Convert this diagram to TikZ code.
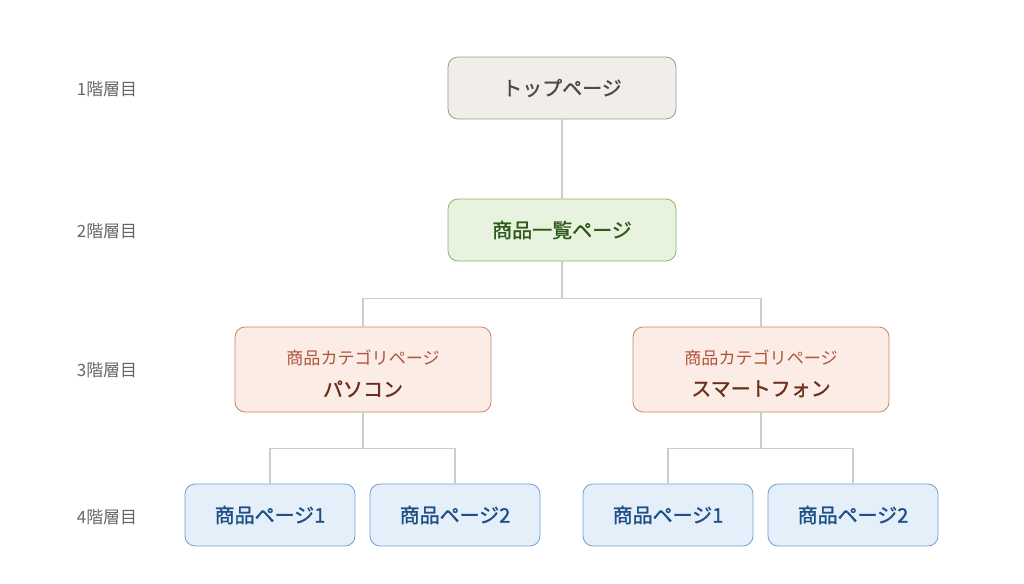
\documentclass[tikz,border=0pt]{standalone}
\usepackage{fontspec}
\setmainfont{Noto Sans CJK JP}
\newfontfamily\medfont[FakeBold=1.2]{Noto Sans CJK JP}
\usetikzlibrary{positioning}

\definecolor{topfill}{HTML}{F1EEE9}
\definecolor{topdraw}{HTML}{9C9893}
\definecolor{toptext}{HTML}{4A4A4A}
\definecolor{listfill}{HTML}{E8F3DF}
\definecolor{listdraw}{HTML}{8AB36F}
\definecolor{listtext}{HTML}{2E5A1C}
\definecolor{catfill}{HTML}{FBECE6}
\definecolor{catdraw}{HTML}{C8826B}
\definecolor{catsub}{HTML}{B0543A}
\definecolor{cattext}{HTML}{6B2E1A}
\definecolor{pagefill}{HTML}{E5EFFA}
\definecolor{pagedraw}{HTML}{6F9FD4}
\definecolor{pagetext}{HTML}{1E4F87}
\definecolor{linkgray}{HTML}{CCCCCC}
\definecolor{levelgray}{HTML}{666666}

\tikzset{
  box/.style={rounded corners=7.5pt, line width=0.6pt, align=center, inner sep=0pt},
  topbox/.style={box, fill=topfill, draw=topdraw, text=toptext,
    minimum width=171pt, minimum height=46.5pt, font=\fontsize{15}{18}\medfont},
  listbox/.style={box, fill=listfill, draw=listdraw, text=listtext,
    minimum width=171pt, minimum height=46.5pt, font=\fontsize{15}{18}\medfont},
  catbox/.style={box, fill=catfill, draw=catdraw, text=cattext,
    minimum width=192pt, minimum height=63.75pt},
  pagebox/.style={box, fill=pagefill, draw=pagedraw, text=pagetext,
    minimum width=127.5pt, minimum height=46.5pt, font=\fontsize{15}{18}\medfont},
  level/.style={text=levelgray, font=\fontsize{12.7}{15}\selectfont},
  link/.style={draw=linkgray, line width=0.9pt}
}

\newcommand{\catlabel}[1]{\rule{0pt}{17pt}{\fontsize{12.8}{15}\selectfont\color{catsub}商品カテゴリページ}\\[10pt]{\fontsize{15}{18}\medfont #1}}

\begin{document}
\begin{tikzpicture}[x=0.75pt,y=0.75pt,yscale=-1,xscale=1]
\useasboundingbox (0,0) rectangle (1024,583);

% level labels
\node [level] (lv1) at (107,89) {1階層目};
\node [level] (lv2) at (107,231) {2階層目};
\node [level] (lv3) at (107,370) {3階層目};
\node [level] (lv4) at (107,517) {4階層目};

% pages
\node [topbox] (top) at (562,88) {トップページ};
\node [listbox] (list) at (562,230) {商品一覧ページ};
\node [catbox] (catpc) at (363,369.5) {\catlabel{パソコン}};
\node [catbox] (catsp) at (761,369.5) {\catlabel{スマートフォン}};
\node [pagebox] (pc1) at (270,515) {商品ページ1};
\node [pagebox] (pc2) at (455,515) {商品ページ2};
\node [pagebox] (sp1) at (668,515) {商品ページ1};
\node [pagebox] (sp2) at (853,515) {商品ページ2};

% links
\draw [link] (top) -- (list);
\draw [link] (list.south) -- ++(0,37) -| (catpc.north);
\draw [link] (list.south) -- ++(0,37) -| (catsp.north);
\draw [link] (catpc.south) -- ++(0,36) -| (pc1.north);
\draw [link] (catpc.south) -- ++(0,36) -| (pc2.north);
\draw [link] (catsp.south) -- ++(0,36) -| (sp1.north);
\draw [link] (catsp.south) -- ++(0,36) -| (sp2.north);

\end{tikzpicture}
\end{document}
